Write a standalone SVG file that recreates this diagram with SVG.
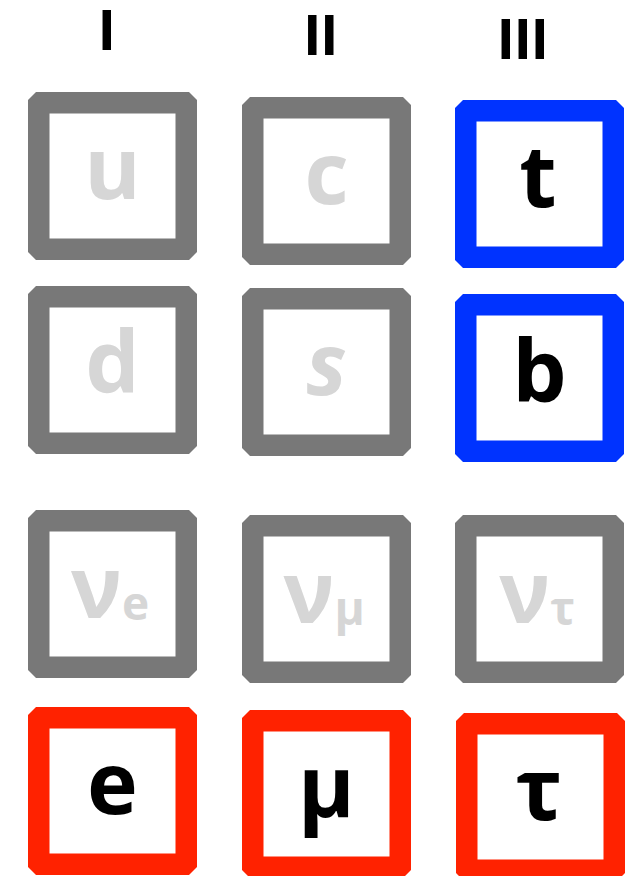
<svg xmlns="http://www.w3.org/2000/svg" xmlns:xlink="http://www.w3.org/1999/xlink" width="632" height="876" viewBox="0 0 632 876">
<style>
.gray{fill:#787878}
.blue{fill:#0033ff}
.red{fill:#ff2200}
.hdr{font-family:"Open Sans","Liberation Sans",sans-serif;font-weight:700;font-size:56px;fill:#000;text-anchor:middle;letter-spacing:-1.5px}
.lbl{font-family:"Open Sans","Liberation Sans",sans-serif;font-weight:700;font-size:86px;text-anchor:middle}
.dim{fill:#d6d6d6}
.ink{fill:#000}
.sub{font-size:46px}
</style>
<defs>
<path id="box" fill-rule="evenodd" d="M8,0 H161 L169,8 V160 L161,168 H8 L0,160 V8 Z M21.5,21.5 V146.5 H147.5 V21.5 Z"/>
</defs>
<rect width="632" height="876" fill="#fff"/>
<g id="headers">
<text class="hdr" x="106" y="50">I</text>
<text class="hdr" x="320" y="55">II</text>
<text class="hdr" x="522" y="59">III</text>
</g>
<g id="node-u"><use href="#box" class="gray" x="28" y="92"/><text class="lbl dim" x="112.5" y="199">u</text></g>
<g id="node-c"><use href="#box" class="gray" x="242" y="97"/><text class="lbl dim" x="326.5" y="204">c</text></g>
<g id="node-t"><use href="#box" class="blue" x="455" y="100"/><text class="lbl ink" x="538" y="207">t</text></g>
<g id="node-d"><use href="#box" class="gray" x="28" y="286"/><text class="lbl dim" x="112.5" y="393">d</text></g>
<g id="node-s"><use href="#box" class="gray" x="242" y="288"/><text class="lbl dim" x="326.5" y="395" font-style="italic">s</text></g>
<g id="node-b"><use href="#box" class="blue" x="455" y="294"/><text class="lbl ink" x="539.5" y="402">b</text></g>
<g id="node-nue"><use href="#box" class="gray" x="28" y="510"/><text class="lbl dim" x="110" y="618">ν<tspan class="sub" dy="2">e</tspan></text></g>
<g id="node-numu"><use href="#box" class="gray" x="242" y="515"/><text class="lbl dim" x="324" y="623">ν<tspan class="sub" dy="2">μ</tspan></text></g>
<g id="node-nutau"><use href="#box" class="gray" x="455" y="515"/><text class="lbl dim" x="537" y="623">ν<tspan class="sub" dy="2">τ</tspan></text></g>
<g id="node-e"><use href="#box" class="red" x="28" y="707"/><text class="lbl ink" x="112.5" y="814">e</text></g>
<g id="node-mu"><use href="#box" class="red" x="242" y="710"/><text class="lbl ink" x="326.5" y="817">μ</text></g>
<g id="node-tau"><use href="#box" class="red" x="456" y="713"/><text class="lbl ink" x="539" y="820">τ</text></g>
<g id="connectors"/>
</svg>
